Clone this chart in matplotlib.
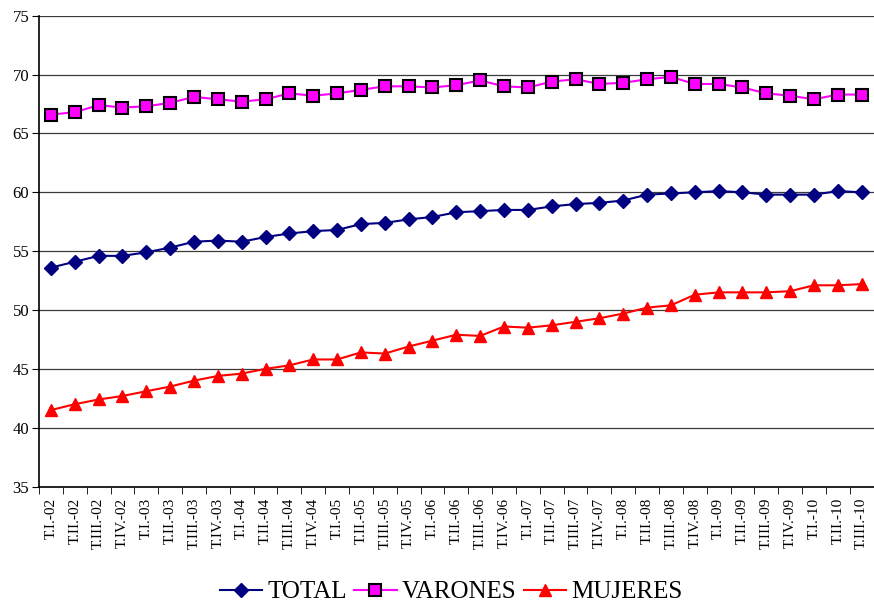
import matplotlib.pyplot as plt

# quarters T.I-02 .. T.III-10
roman = ['I', 'II', 'III', 'IV']
periods = []
for year in range(2, 11):
    for q in roman:
        periods.append('T.' + q + '.-' + '%02d' % year)
periods = periods[:35]

total = [53.6, 54.1, 54.6, 54.6, 54.9, 55.3, 55.8, 55.9, 55.8, 56.2,
         56.5, 56.7, 56.8, 57.3, 57.4, 57.7, 57.9, 58.3, 58.4, 58.5,
         58.5, 58.8, 59.0, 59.1, 59.3, 59.8, 59.9, 60.0, 60.1, 60.0,
         59.8, 59.8, 59.8, 60.1, 60.0]
varones = [66.6, 66.8, 67.4, 67.2, 67.3, 67.6, 68.1, 67.9, 67.7, 67.9,
           68.4, 68.2, 68.4, 68.7, 69.0, 69.0, 68.9, 69.1, 69.5, 69.0,
           68.9, 69.4, 69.6, 69.2, 69.3, 69.6, 69.8, 69.2, 69.2, 68.9,
           68.4, 68.2, 67.9, 68.3, 68.3]
mujeres = [41.5, 42.0, 42.4, 42.7, 43.1, 43.5, 44.0, 44.4, 44.6, 45.0,
           45.3, 45.8, 45.8, 46.4, 46.3, 46.9, 47.4, 47.9, 47.8, 48.6,
           48.5, 48.7, 49.0, 49.3, 49.7, 50.2, 50.4, 51.3, 51.5, 51.5,
           51.5, 51.6, 52.1, 52.1, 52.2]

plt.rcParams['font.family'] = ['Liberation Serif', 'DejaVu Serif']

fig = plt.figure(figsize=(8.74, 6.03), dpi=100)
ax = fig.add_axes([0.0446, 0.193, 0.955, 0.781])

x = list(range(len(periods)))
ax.plot(x, total, color='#000080', lw=1.5, marker='D', markersize=7.4,
        markerfacecolor='#000080', markeredgecolor='#000080', label='TOTAL', zorder=3)
ax.plot(x, varones, color='#FF00FF', lw=1.5, marker='s', markersize=8.3,
        markerfacecolor='#FF00FF', markeredgecolor='black', markeredgewidth=1.5,
        label='VARONES', zorder=3)
ax.plot(x, mujeres, color='red', lw=1.5, marker='^', markersize=9,
        markerfacecolor='red', markeredgecolor='red', label='MUJERES', zorder=3)

ax.set_ylim(35, 75)
ax.set_xlim(-0.5, len(periods) - 0.5)
ax.set_yticks(range(35, 76, 5))
ax.yaxis.grid(True, color='#3a3a3a', lw=0.9)
ax.set_axisbelow(True)

ax.set_xticks(x)
ax.set_xticklabels(periods, rotation=90, fontsize=11)
ax.set_xticks([i - 0.5 for i in range(len(periods) + 1)], minor=True)
ax.tick_params(axis='x', which='major', length=0, pad=8)
ax.tick_params(axis='x', which='minor', length=5, color='black')
ax.tick_params(axis='y', labelsize=12, length=5, pad=2)

for s in ['top', 'right']:
    ax.spines[s].set_visible(False)
ax.spines['left'].set_linewidth(1.2)
ax.spines['bottom'].set_linewidth(1.2)

fig.legend(loc='center', bbox_to_anchor=(0.516, 0.018), ncol=3, frameon=False,
           fontsize=18, handlelength=1.7, handletextpad=0.2, columnspacing=0.3)

plt.savefig('out.png')
